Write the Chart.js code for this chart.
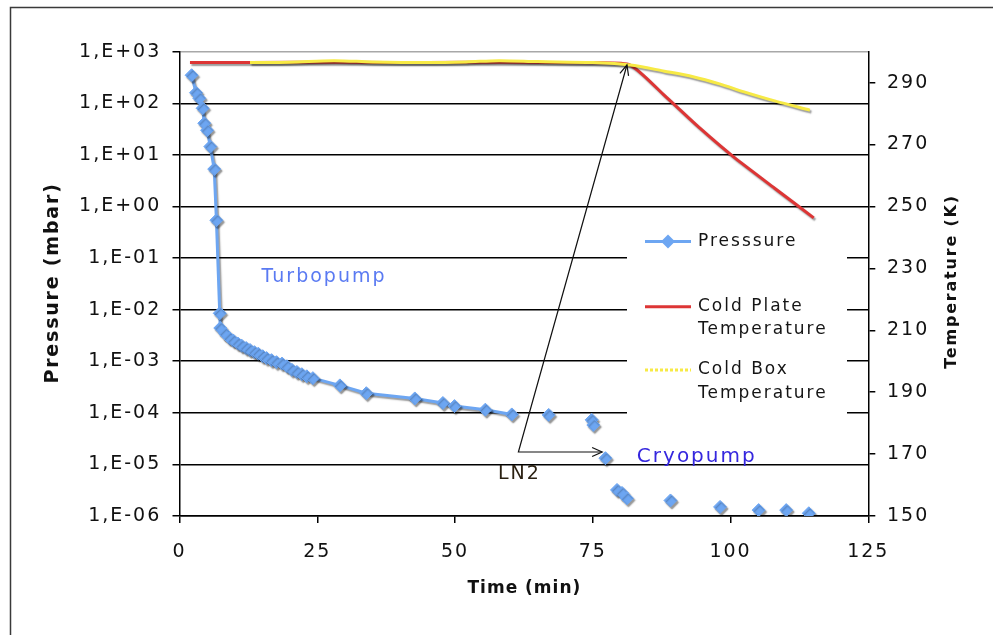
<!DOCTYPE html>
<html>
<head>
<meta charset="utf-8">
<title>Pressure and temperature vs time</title>
<script src="https://cdn.jsdelivr.net/npm/chart.js@4.4.1/dist/chart.umd.min.js"></script>
<style>
  html, body { margin: 0; padding: 0; background: #fff; }
  canvas { display: block; }
</style>
</head>
<body>
<canvas id="pumpChart" width="993" height="635"></canvas>
<script>
// pressure readings: time (min) / pressure (mbar)
const pressureTime = [2.2, 3.0, 3.6, 4.2, 4.5, 5.0, 5.6, 6.3, 6.7, 7.3, 7.4, 8.3, 9.1, 9.8, 10.6, 11.3,
    12.1, 12.8, 13.6, 14.3, 15.1, 15.8, 16.7, 17.6, 18.6, 19.5, 20.4, 21.3, 22.2, 23.1, 24.2, 29.1,
    33.9, 42.7, 47.8, 49.9, 55.5, 60.3, 67.0, 74.8, 75.1, 77.3, 79.4, 80.3, 81.2, 89.1, 98.1,
    105.1, 110.1, 114.2];
const pressureValues = [350, 160, 125, 80, 41, 30, 14.5, 5.3, 0.54, 8.5e-3, 4.4e-3, 3.4e-3, 2.8e-3,
    2.5e-3, 2.2e-3, 2.0e-3, 1.8e-3, 1.65e-3, 1.5e-3, 1.4e-3, 1.25e-3, 1.15e-3, 1.05e-3, 9.6e-4,
    9.0e-4, 8.0e-4, 6.8e-4, 6.2e-4, 5.6e-4, 5.1e-4, 4.7e-4, 3.4e-4, 2.4e-4, 1.9e-4, 1.55e-4,
    1.35e-4, 1.15e-4, 9.3e-5, 9.1e-5, 7.3e-5, 5.8e-5, 1.32e-5, 3.2e-6, 2.8e-6, 2.2e-6, 2.0e-6,
    1.5e-6, 1.3e-6, 1.3e-6, 1.13e-6];

// temperatures (K)
const coldPlateTime = [1.9, 12.8, 30, 45, 60, 75, 81.8, 88, 94.5, 100.5, 108, 115.1];
const coldPlateTemp = [296.5, 296.5, 296.6, 296.5, 296.6, 296.4, 295.7, 285.9, 275.2, 266.1, 255.9, 246.3];
const coldBoxTime = [12.8, 20, 28, 35, 45, 52, 58, 65, 75, 81.8, 88, 93.2, 98, 102.3, 108, 114.4];
const coldBoxTemp = [296.5, 296.6, 297.1, 296.7, 296.5, 296.7, 297.1, 296.8, 296.5, 295.7, 293.7,
    291.9, 289.6, 287.1, 284.1, 281.1];

const seriesNames = ['Presssure', 'Cold Plate Temperature', 'Cold Box Temperature'];
const legendLines = [['Presssure'], ['Cold Plate', 'Temperature'], ['Cold Box', 'Temperature']];

const pressureTicks = [1e-6, 1e-5, 1e-4, 1e-3, 1e-2, 1e-1, 1e0, 1e1, 1e2, 1e3];
const pressureTickLabels = ['1,E-06', '1,E-05', '1,E-04', '1,E-03', '1,E-02', '1,E-01',
    '1,E+00', '1,E+01', '1,E+02', '1,E+03'];
const temperatureTicks = [150, 170, 190, 210, 230, 250, 270, 290];

// text notes and the LN2 arrow, in data units (min, mbar)
const notes = [
    { text: 'Turbopump', t: 14.9, p: 0.043, color: '#5a7af2', size: 19 },
    { text: 'Cryopump', t: 83.0, p: 1.41e-5, color: '#3527de', size: 20 },
    { text: 'LN2', t: 57.8, p: 6.5e-6, color: '#2b2112', size: 19 }
];
const arrowPath = [[81.2, 552], [61.5, 1.74e-5], [76.7, 1.74e-5]];

const BLUE = '#6da6f2';
const RED = '#dd3535';
const YELLOW = '#f7ea45';
const FONT = '"DejaVu Sans", Verdana, sans-serif';
const SPACING = '2px';

Chart.defaults.font.family = FONT;

const toXY = (xs, ys) => xs.map((v, i) => ({ x: v, y: ys[i] }));

const spacingPlugin = {
    id: 'spacing',
    beforeUpdate(chart) { chart.ctx.letterSpacing = SPACING; },
    beforeDraw(chart) {
        const ctx = chart.ctx;
        ctx.letterSpacing = SPACING;
        ctx.save();
        ctx.fillStyle = '#fff';
        ctx.fillRect(0, 0, chart.width, chart.height);
        ctx.strokeStyle = '#3a3a3a';
        ctx.lineWidth = 1.5;
        ctx.strokeRect(10.5, 7.5, 2000, 2000);
        ctx.restore();
    }
};

const shadowPlugin = {
    id: 'shadow',
    beforeDatasetsDraw(chart) {
        const ctx = chart.ctx;
        ctx.save();
        ctx.shadowColor = 'rgba(0,0,0,0.4)';
        ctx.shadowOffsetX = 1.5;
        ctx.shadowOffsetY = 2;
        ctx.shadowBlur = 1.5;
    },
    afterDatasetsDraw(chart) { chart.ctx.restore(); }
};

function diamond(ctx, cx, cy, r) {
    ctx.beginPath();
    ctx.moveTo(cx - r, cy);
    ctx.lineTo(cx, cy - r);
    ctx.lineTo(cx + r, cy);
    ctx.lineTo(cx, cy + r);
    ctx.closePath();
    ctx.fill();
}

function arrowHead(ctx, fx, fy, tx, ty) {
    const a = Math.atan2(ty - fy, tx - fx), len = 11, spread = 0.42;
    ctx.beginPath();
    ctx.moveTo(tx - len * Math.cos(a - spread), ty - len * Math.sin(a - spread));
    ctx.lineTo(tx, ty);
    ctx.lineTo(tx - len * Math.cos(a + spread), ty - len * Math.sin(a + spread));
    ctx.stroke();
}

function axisTitle(ctx, text, cx, cy, size, spacing, rotate) {
    ctx.save();
    ctx.font = 'bold ' + size + 'px ' + FONT;
    ctx.letterSpacing = spacing + 'px';
    ctx.fillStyle = '#111';
    ctx.textAlign = 'center';
    ctx.textBaseline = 'middle';
    ctx.translate(cx + (rotate ? 0 : spacing / 2), cy - (rotate ? spacing / 2 : 0));
    if (rotate) ctx.rotate(-Math.PI / 2);
    ctx.fillText(text, 0, 0);
    ctx.restore();
}

const overlayPlugin = {
    id: 'overlay',
    afterDraw(chart) {
        const ctx = chart.ctx;
        const { x, y } = chart.scales;
        const area = chart.chartArea;
        const midY = (area.top + area.bottom) / 2;
        ctx.save();
        ctx.letterSpacing = SPACING;

        // legend box inside the plot
        ctx.fillStyle = '#fff';
        ctx.fillRect(627, 222, 220, 218);
        const rows = [241.5, 306.7, 370];
        const colors = [BLUE, RED, YELLOW];
        ctx.font = '17px ' + FONT;
        ctx.textBaseline = 'middle';
        ctx.textAlign = 'left';
        rows.forEach((ry, i) => {
            ctx.save();
            ctx.strokeStyle = colors[i];
            ctx.lineWidth = 3;
            if (i === 2) ctx.setLineDash([3, 2]);
            ctx.beginPath();
            ctx.moveTo(645, ry);
            ctx.lineTo(691, ry);
            ctx.stroke();
            ctx.restore();
            if (i === 0) {
                ctx.fillStyle = BLUE;
                diamond(ctx, 668, ry, 7);
            }
            ctx.fillStyle = '#151515';
            legendLines[i].forEach((line, k) => ctx.fillText(line, 698, ry + k * 23.3));
        });

        // notes
        notes.forEach(n => {
            ctx.font = n.size + 'px ' + FONT;
            ctx.fillStyle = n.color;
            ctx.fillText(n.text, x.getPixelForValue(n.t), y.getPixelForValue(n.p));
        });

        // LN2 arrow
        const pts = arrowPath.map(([t, p]) => [x.getPixelForValue(t), y.getPixelForValue(p)]);
        ctx.strokeStyle = '#111';
        ctx.lineWidth = 1.2;
        ctx.beginPath();
        pts.forEach(([px, py], i) => (i ? ctx.lineTo(px, py) : ctx.moveTo(px, py)));
        ctx.stroke();
        arrowHead(ctx, pts[1][0], pts[1][1], pts[0][0], pts[0][1]);
        arrowHead(ctx, pts[1][0], pts[1][1], pts[2][0], pts[2][1]);
        ctx.restore();

        // axis titles (both vertical ones read bottom to top)
        axisTitle(ctx, 'Pressure (mbar)', 53, midY, 19, 1.8, true);
        axisTitle(ctx, 'Temperature (K)', 952.3, midY - 1.5, 16, 1.8, true);
        axisTitle(ctx, 'Time (min)', (area.left + area.right) / 2, 588.3, 17, 1, false);
    }
};

const tickFont = { family: FONT, size: 19 };

new Chart(document.getElementById('pumpChart'), {
    type: 'line',
    data: {
        datasets: [
            {
                label: seriesNames[0],
                data: toXY(pressureTime, pressureValues),
                yAxisID: 'y',
                borderColor: BLUE,
                backgroundColor: BLUE,
                borderWidth: 3,
                pointStyle: 'rectRot',
                pointRadius: 6.5,
                pointBorderWidth: 1,
                pointBackgroundColor: BLUE,
                pointBorderColor: BLUE,
                tension: 0,
                order: 0,
                segment: {
                    borderColor: c => (c.p0.parsed.x >= 60.3 ? 'rgba(0,0,0,0)' : undefined)
                }
            },
            {
                label: seriesNames[1],
                data: toXY(coldPlateTime, coldPlateTemp),
                yAxisID: 'y2',
                borderColor: RED,
                borderWidth: 3,
                pointRadius: 0,
                tension: 0.2,
                order: 2
            },
            {
                label: seriesNames[2],
                data: toXY(coldBoxTime, coldBoxTemp),
                yAxisID: 'y2',
                borderColor: YELLOW,
                borderWidth: 3,
                pointRadius: 0,
                tension: 0.3,
                order: 1
            }
        ]
    },
    options: {
        responsive: false,
        animation: false,
        events: [],
        layout: { padding: { top: 51.7, left: 0, right: 0, bottom: 0 } },
        plugins: {
            legend: { display: false },
            tooltip: { enabled: false }
        },
        scales: {
            x: {
                type: 'linear',
                min: 0,
                max: 125,
                ticks: { stepSize: 25, font: tickFont, color: '#111', padding: 17.3, maxRotation: 0 },
                grid: { drawOnChartArea: false, tickLength: 7, color: '#000', lineWidth: 1.5 },
                border: { color: '#000', width: 1.5 },
                afterFit: s => { s.height = 119; }
            },
            y: {
                type: 'logarithmic',
                position: 'left',
                min: 1e-6,
                max: 1e3,
                afterBuildTicks: s => { s.ticks = pressureTicks.map(v => ({ value: v })); },
                ticks: {
                    font: tickFont,
                    color: '#111',
                    padding: 11.2,
                    autoSkip: false,
                    callback: (v, i) => pressureTickLabels[i]
                },
                grid: {
                    color: c => (c.tick && c.tick.value === 1e3 ? '#a8a8a8' : '#000'),
                    tickColor: '#000',
                    tickLength: 7,
                    lineWidth: 1.5
                },
                border: { color: '#000', width: 1.5 },
                afterFit: s => { s.width = 179.5; }
            },
            y2: {
                type: 'linear',
                position: 'right',
                min: 150,
                max: 300,
                afterBuildTicks: s => { s.ticks = temperatureTicks.map(v => ({ value: v })); },
                ticks: { font: tickFont, color: '#111', padding: 11.7, autoSkip: false },
                grid: { drawOnChartArea: false, tickLength: 7, color: '#000', lineWidth: 1.5 },
                border: { color: '#000', width: 1.5 },
                afterFit: s => { s.width = 124.7; }
            }
        }
    },
    plugins: [spacingPlugin, shadowPlugin, overlayPlugin]
});
</script>
</body>
</html>
